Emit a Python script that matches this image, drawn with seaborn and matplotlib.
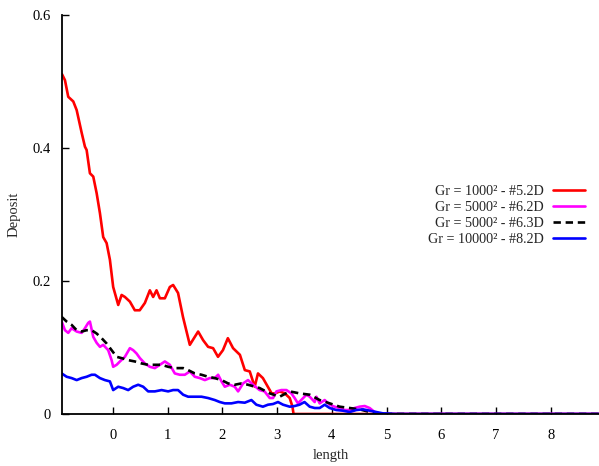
import matplotlib
matplotlib.use("Agg")
import matplotlib.pyplot as plt
import seaborn as sns
import pandas as pd

sns.set_style("white")
plt.rcParams['font.family'] = ['Liberation Serif', 'DejaVu Serif']

# ---- data ----
red_x = [-0.93, -0.876, -0.816, -0.724, -0.662, -0.571, -0.511, -0.48, -0.42, -0.359, -0.297, -0.237,
         -0.177, -0.115, -0.055, 0.005, 0.097, 0.159, 0.219, 0.31, 0.40, 0.49, 0.584, 0.675, 0.735,
         0.797, 0.858, 0.949, 1.04, 1.10, 1.19, 1.28, 1.405, 1.496, 1.557, 1.648, 1.739, 1.83, 1.92,
         2.01, 2.10, 2.195, 2.32, 2.41, 2.50, 2.59, 2.65, 2.74, 2.83, 2.90, 2.96, 3.05, 3.14, 3.23,
         3.28, 3.30, 8.88]
red_y = [0.511, 0.502, 0.477, 0.470, 0.457, 0.423, 0.402, 0.397, 0.362, 0.357, 0.332, 0.302,
         0.266, 0.257, 0.232, 0.191, 0.164, 0.179, 0.176, 0.169, 0.156, 0.156, 0.167, 0.186, 0.176,
         0.186, 0.174, 0.174, 0.191, 0.194, 0.182, 0.146, 0.104, 0.116, 0.124, 0.111, 0.101, 0.099, 0.086,
         0.096, 0.114, 0.099, 0.089, 0.066, 0.064, 0.041, 0.061, 0.054, 0.041, 0.031, 0.031, 0.034, 0.031, 0.024,
         0.011, 0.0, 0.0]

mag_x = [-0.936, -0.876, -0.816, -0.754, -0.662, -0.571, -0.511, -0.451, -0.42, -0.359, -0.297, -0.237,
         -0.177, -0.086, -0.024, 0.005, 0.068, 0.128, 0.219, 0.31, 0.37, 0.432, 0.493, 0.584, 0.675,
         0.766, 0.858, 0.949, 1.04, 1.131, 1.223, 1.314, 1.405, 1.496, 1.588, 1.679, 1.77, 1.861, 1.922,
         1.984, 2.044, 2.135, 2.226, 2.287, 2.378, 2.469, 2.56, 2.68, 2.77, 2.865, 2.925, 2.987, 3.078,
         3.17, 3.26, 3.32, 3.38, 3.44, 3.535, 3.595, 3.686, 3.717, 3.777, 3.869, 3.96, 4.05, 4.142, 4.23,
         4.325, 4.416, 4.507, 4.6, 4.69, 4.78, 4.87, 4.96, 8.88]
mag_y = [0.139, 0.126, 0.122, 0.129, 0.124, 0.122, 0.129, 0.137, 0.139, 0.116, 0.107, 0.101,
         0.104, 0.096, 0.081, 0.071, 0.074, 0.079, 0.086, 0.099, 0.096, 0.091, 0.084, 0.076, 0.071,
         0.069, 0.074, 0.079, 0.074, 0.061, 0.059, 0.059, 0.064, 0.056, 0.054, 0.051, 0.054, 0.054, 0.059,
         0.049, 0.041, 0.044, 0.041, 0.034, 0.046, 0.051, 0.044, 0.036, 0.034, 0.024, 0.024, 0.034, 0.036,
         0.036, 0.031, 0.024, 0.016, 0.021, 0.029, 0.026, 0.018, 0.026, 0.016, 0.021, 0.014, 0.011, 0.009, 0.006,
         0.006, 0.009, 0.011, 0.012, 0.009, 0.003, 0.001, 0.0, 0.0]

blk_x = [-0.936, -0.845, -0.754, -0.662, -0.571, -0.48, -0.389, -0.297, -0.206, -0.115, -0.024, 0.068,
         0.159, 0.279, 0.40, 0.524, 0.644, 0.766, 0.889, 1.009, 1.131, 1.283, 1.374, 1.496, 1.619, 1.739,
         1.861, 1.984, 2.104, 2.226, 2.349, 2.469, 2.68, 2.865, 3.047, 3.23, 3.41, 3.595, 3.777, 3.96,
         4.142, 4.325, 4.507, 4.69, 4.87, 8.88]
blk_y = [0.146, 0.139, 0.134, 0.126, 0.124, 0.126, 0.126, 0.121, 0.114, 0.106, 0.096, 0.086,
         0.084, 0.081, 0.079, 0.076, 0.074, 0.074, 0.074, 0.071, 0.069, 0.069, 0.066, 0.061, 0.059, 0.056,
         0.054, 0.051, 0.046, 0.044, 0.046, 0.044, 0.039, 0.031, 0.026, 0.034, 0.031, 0.029, 0.021, 0.016,
         0.011, 0.009, 0.007, 0.003, 0.0, 0.0]

blu_x = [-0.936, -0.845, -0.754, -0.662, -0.571, -0.48, -0.389, -0.328, -0.237, -0.146, -0.055, 0.005,
         0.097, 0.188, 0.279, 0.37, 0.462, 0.553, 0.644, 0.766, 0.889, 1.009, 1.10, 1.19, 1.283, 1.374,
         1.496, 1.619, 1.739, 1.861, 1.953, 2.044, 2.166, 2.287, 2.409, 2.53, 2.62, 2.74, 2.834, 2.925,
         3.016, 3.108, 3.23, 3.32, 3.41, 3.50, 3.595, 3.686, 3.777, 3.869, 3.96, 4.08, 4.20, 4.325, 4.447,
         4.57, 4.69, 4.81, 4.93, 5.18, 8.88]
blu_y = [0.061, 0.056, 0.054, 0.051, 0.054, 0.056, 0.059, 0.059, 0.054, 0.051, 0.049, 0.036,
         0.041, 0.039, 0.036, 0.041, 0.044, 0.041, 0.034, 0.034, 0.036, 0.034, 0.036, 0.036, 0.029, 0.026,
         0.026, 0.026, 0.024, 0.021, 0.018, 0.016, 0.016, 0.018, 0.017, 0.021, 0.014, 0.011, 0.014, 0.015,
         0.018, 0.014, 0.011, 0.012, 0.014, 0.018, 0.011, 0.009, 0.009, 0.014, 0.009, 0.006, 0.005, 0.003, 0.006,
         0.007, 0.005, 0.003, 0.001, 0.0, 0.0]

labels = ["Gr = 1000² - #5.2D", "Gr = 5000² - #6.2D", "Gr = 5000² - #6.3D", "Gr = 10000² - #8.2D"]
x_ticks = [0, 1, 2, 3, 4, 5, 6, 7, 8]
y_ticks = [0, 0.2, 0.4, 0.6]
y_ticklabels = ["0", "0.2", "0.4", "0.6"]

fig = plt.figure(figsize=(5.99, 4.66), dpi=100)
ax = fig.add_axes([62 / 599, 1 - 414 / 466, 537 / 599, 399 / 466])

series = [
    (red_x, red_y, labels[0], "#ff0000", "-"),
    (mag_x, mag_y, labels[1], "#ff00ff", "-"),
    (blk_x, blk_y, labels[2], "#000000", (0, (2.8, 1.8))),
    (blu_x, blu_y, labels[3], "#0000ff", "-"),
]
for xs, ys, lab, col, ls in series:
    df = pd.DataFrame({"x": xs, "y": ys})
    sns.lineplot(data=df, x="x", y="y", ax=ax, color=col, linewidth=1.9,
                 label=lab, sort=False, estimator=None)
    ax.lines[-1].set_linestyle(ls)

ax.set_xlim(-0.93, 8.88)
ax.set_ylim(0, 0.6)
ax.set_xticks(x_ticks)
ax.set_xticklabels([str(t) for t in x_ticks])
ax.set_yticks(y_ticks)
ax.set_yticklabels(y_ticklabels)
ax.tick_params(direction="in", length=5, width=1, labelsize=10.5, colors="black",
               bottom=True, left=True, pad=8)
ax.tick_params(axis="x", pad=11)
for s in ["top", "right"]:
    ax.spines[s].set_visible(False)
for s in ["left", "bottom"]:
    ax.spines[s].set_color("black")
    ax.spines[s].set_linewidth(1.3)

ax.set_xlabel("length", fontsize=10.5, labelpad=5)
ax.set_ylabel("Deposit", fontsize=10.5, labelpad=9)

leg = ax.legend(loc="upper right", bbox_to_anchor=(0.985, 0.588), frameon=False,
                markerfirst=False, fontsize=10.2, handlelength=2.3, labelspacing=0.2,
                handletextpad=0.6, borderaxespad=0)
for t in leg.get_texts():
    t.set_ha("right")
leg._legend_box.align = "right"

fig.savefig("out.png", dpi=100)
